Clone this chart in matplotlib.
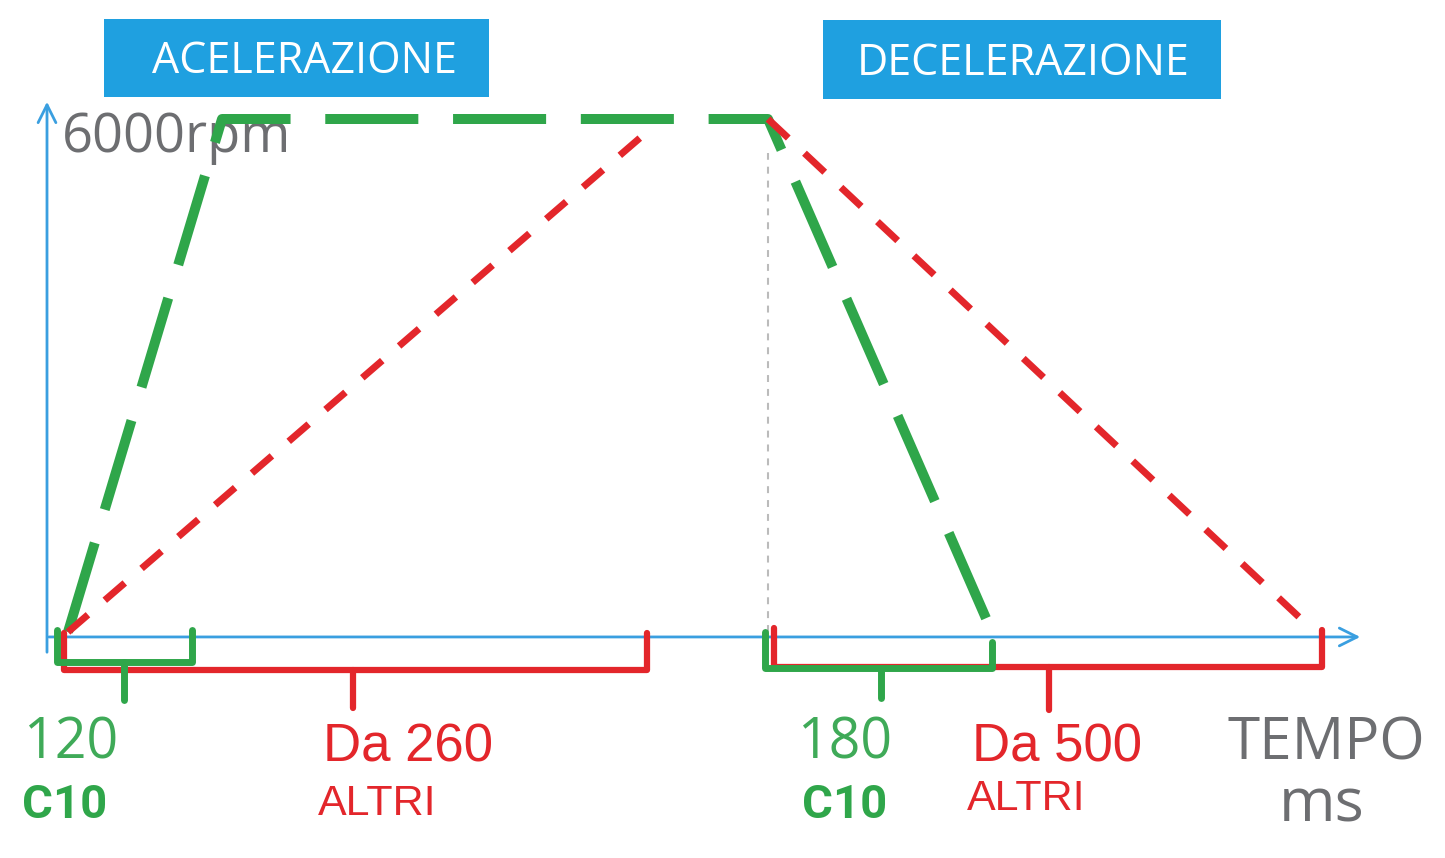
import matplotlib
matplotlib.use("Agg")
import matplotlib.pyplot as plt
from matplotlib.patches import Rectangle

# schematic: x = position along the time axis (not to scale), y = rpm
GREEN_X = [0, 154, 700, 924]
GREEN_Y = [0, 6000, 6000, 0]
RED_ACC_X = [0, 584]
RED_ACC_Y = [0, 5900]
RED_DEC_X = [700, 1247]
RED_DEC_Y = [6000, 0]

RPM_MAX = "6000rpm"
LABELS_ACC = [("120", "C10"), ("Da 260", "ALTRI")]
LABELS_DEC = [("180", "C10"), ("Da 500", "ALTRI")]
TITLES = ["ACELERAZIONE", "DECELERAZIONE"]

GREEN, GREEN_TXT, RED, BLUE, BOX, GRAY = "#2FA64A", "#3FAA58", "#E3262B", "#3A9FE0", "#1FA0E0", "#6D6E71"

plt.rcParams["lines.scale_dashes"] = False

fig = plt.figure(figsize=(14.45, 8.58), dpi=100)
ax = fig.add_axes([0, 0, 1, 1])
# 1 x unit = 1 px, origin at px 68; rpm 0 at px 632, 6000 at px 119
RPM_PX = 6000 / 513.0
ax.set_xlim(-68, 1445 - 68)
ax.set_ylim(-(858 - 632) * RPM_PX, 632 * RPM_PX)
ax.axis("off")

# axes arrows
ax.annotate("", xy=(-21, 6234), xytext=(-21, -269),
            arrowprops=dict(arrowstyle="->", color=BLUE, lw=2, mutation_scale=32))
ax.annotate("", xy=(1295, -58), xytext=(-22, -58),
            arrowprops=dict(arrowstyle="->", color=BLUE, lw=2, mutation_scale=32))

# guide at start of deceleration
ax.plot([700, 700], [0, 5600], color="#BBBBBB", lw=1.5, dashes=(5, 5))

# speed profiles
ax.plot(GREEN_X, GREEN_Y, color=GREEN, lw=7.2, dashes=(67, 25), solid_capstyle="butt", zorder=3)
ax.plot(RED_ACC_X, RED_ACC_Y, color=RED, lw=5, dashes=(19, 16), solid_capstyle="butt", zorder=4)
ax.plot(RED_DEC_X, RED_DEC_Y, color=RED, lw=5, dashes=(20, 16), solid_capstyle="butt", zorder=4)


def bracket(x0, x1, top0, top1, bottom, tx, tbottom, color, lw, z):
    kw = dict(color=color, lw=lw, solid_joinstyle="round", solid_capstyle="round", zorder=z)
    ax.plot([x0, x0, x1, x1], [top0, bottom, bottom, top1], **kw)
    ax.plot([tx, tx], [bottom, tbottom], **kw)


bracket(-4, 579, -12, -12, -444, 285, -889, RED, 4.5, 5)
bracket(-11, 124, 23, 23, -351, 56, -795, GREEN, 5, 6)
bracket(706, 1254, 47, 23, -409, 981, -912, RED, 4.5, 5)
bracket(697, 924, 0, -117, -421, 813, -772, GREEN, 5, 6)

# title boxes
for (x0, x1, y0, y1), (tx, ty), t in zip([(36, 421, 6257, 7170), (755, 1153, 6234, 7158)],
                                         [(236, 6538), (955, 6515)], TITLES):
    ax.add_patch(Rectangle((x0, y0), x1 - x0, y1 - y0, color=BOX, lw=0, zorder=1))
    ax.text(tx, ty, t, color="white", fontsize=31, family="Open Sans", ha="center", va="baseline", zorder=2)

ax.text(-6, 5614, RPM_MAX, color=GRAY, fontsize=39, family="Open Sans", va="baseline", zorder=2)

# bottom labels
for (num, name), xs in zip([LABELS_ACC[0], LABELS_DEC[0]], [(-45, -46), (729, 734)]):
    ax.text(xs[0], -1474, num, color=GREEN_TXT, fontsize=40, family="Open Sans", va="baseline")
    ax.text(xs[1], -2175, name, color=GREEN, fontsize=34, family="Roboto", weight="bold", va="baseline")
for (num, name), xs, yn in zip([LABELS_ACC[1], LABELS_DEC[1]], [(255, 250), (904, 899)], [-2140, -2082]):
    ax.text(xs[0], -1520, num, color=RED, fontsize=38, family="Liberation Sans", va="baseline")
    ax.text(xs[1], yn, name, color=RED, fontsize=31, family="Liberation Sans", va="baseline")

ax.text(1160, -1497, "TEMPO", color=GRAY, fontsize=42, family="Open Sans", va="baseline")
ax.text(1254, -2222, "ms", color=GRAY, fontsize=44, family="Open Sans", ha="center", va="baseline")

fig.savefig("out.png", dpi=100)
